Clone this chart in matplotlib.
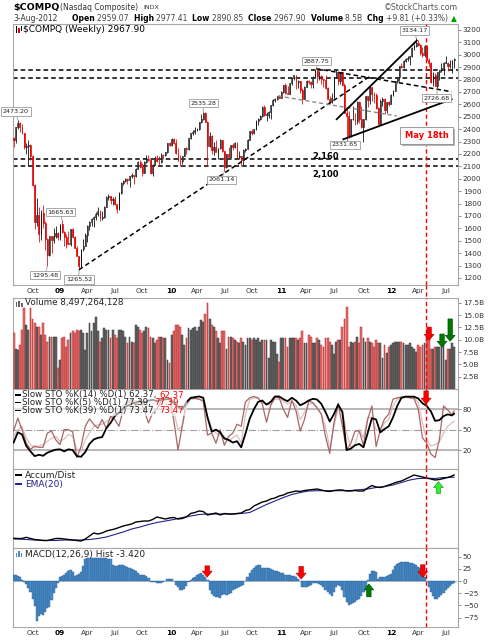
import numpy as np
import pandas as pd
import matplotlib
matplotlib.use("Agg")
import matplotlib.pyplot as plt
import matplotlib.dates as mdates
from matplotlib.patches import Rectangle
from matplotlib.lines import Line2D

plt.rcParams['font.family'] = ['DejaVu Sans']

W, H = 496, 640

# weekly bars of $COMPQ, week ending Fri 1-Aug-2008 .. 3-Aug-2012
week_end = pd.date_range('2008-08-01', periods=210, freq='W-FRI')

opens = [2325, 2311, 2414, 2453, 2415, 2368, 2256, 2261, 2274, 2183,
         1947, 1650, 1711, 1552, 1721, 1647, 1517, 1384, 1536, 1509,
         1541, 1564, 1530, 1632, 1572, 1529, 1477, 1476, 1592, 1534,
         1441, 1378, 1294, 1432, 1457, 1545, 1622, 1653, 1673, 1694,
         1719, 1739, 1680, 1692, 1774, 1849, 1859, 1827, 1838, 1797,
         1756, 1887, 1966, 1979, 2000, 1986, 2021, 2029, 2019, 2081,
         2133, 2091, 2048, 2139, 2157, 2154, 2045, 2112, 2168, 2146,
         2138, 2194, 2190, 2212, 2286, 2269, 2317, 2288, 2205, 2147,
         2141, 2184, 2244, 2238, 2326, 2368, 2374, 2395, 2403, 2454,
         2481, 2530, 2461, 2266, 2347, 2229, 2257, 2219, 2244, 2310,
         2223, 2092, 2196, 2179, 2269, 2255, 2288, 2173, 2180, 2154,
         2234, 2242, 2316, 2381, 2371, 2402, 2469, 2479, 2507, 2579,
         2518, 2518, 2535, 2591, 2638, 2643, 2666, 2653, 2703, 2755,
         2690, 2687, 2769, 2809, 2834, 2781, 2785, 2716, 2644, 2743,
         2790, 2780, 2765, 2820, 2874, 2828, 2828, 2803, 2797, 2733,
         2644, 2616, 2653, 2816, 2860, 2790, 2859, 2756, 2532, 2508,
         2342, 2480, 2480, 2468, 2622, 2483, 2415, 2479, 2668, 2637,
         2737, 2686, 2679, 2573, 2442, 2627, 2647, 2555, 2619, 2605,
         2674, 2711, 2787, 2817, 2906, 2904, 2952, 2964, 2976, 2988,
         3055, 3068, 3092, 3081, 3011, 3000, 3069, 2956, 2934, 2779,
         2838, 2747, 2858, 2873, 2892, 2935, 2937, 2908, 2925, 2959]

highs = [2340, 2420, 2473, 2460, 2440, 2370, 2290, 2310, 2280, 2190,
         1960, 1845, 1770, 1745, 1785, 1660, 1525, 1540, 1540, 1600,
         1620, 1570, 1635, 1666, 1580, 1555, 1580, 1595, 1600, 1540,
         1460, 1380, 1435, 1510, 1560, 1625, 1660, 1680, 1700, 1730,
         1775, 1745, 1740, 1780, 1860, 1880, 1862, 1850, 1860, 1800,
         1890, 1970, 1990, 2010, 2010, 2025, 2050, 2030, 2085, 2140,
         2150, 2130, 2140, 2190, 2190, 2160, 2115, 2180, 2190, 2180,
         2210, 2200, 2215, 2290, 2296, 2325, 2326, 2320, 2250, 2195,
         2185, 2245, 2260, 2330, 2370, 2390, 2420, 2410, 2455, 2520,
         2535, 2535, 2465, 2380, 2355, 2300, 2310, 2250, 2320, 2315,
         2225, 2200, 2260, 2275, 2285, 2295, 2300, 2220, 2185, 2240,
         2250, 2320, 2385, 2400, 2405, 2475, 2490, 2515, 2590, 2592,
         2535, 2545, 2595, 2640, 2650, 2670, 2675, 2710, 2760, 2770,
         2745, 2775, 2815, 2840, 2835, 2800, 2790, 2730, 2750, 2800,
         2800, 2785, 2825, 2880, 2888, 2865, 2840, 2805, 2835, 2740,
         2670, 2690, 2820, 2875, 2865, 2860, 2860, 2775, 2560, 2545,
         2485, 2585, 2530, 2625, 2625, 2590, 2480, 2670, 2670, 2750,
         2740, 2700, 2690, 2580, 2640, 2660, 2650, 2620, 2630, 2680,
         2715, 2790, 2820, 2910, 2930, 2955, 2970, 2990, 2990, 3060,
         3085, 3134, 3120, 3085, 3060, 3075, 3080, 2975, 2940, 2860,
         2850, 2860, 2880, 2930, 2940, 2990, 2945, 2960, 2960, 2977]

lows = [2260, 2290, 2400, 2380, 2360, 2240, 2200, 2100, 2150, 1940,
        1596, 1615, 1493, 1505, 1600, 1428, 1295, 1380, 1398, 1480,
        1520, 1505, 1505, 1560, 1456, 1440, 1470, 1460, 1520, 1438,
        1375, 1266, 1290, 1420, 1455, 1490, 1585, 1620, 1610, 1665,
        1700, 1660, 1670, 1685, 1770, 1830, 1800, 1790, 1790, 1727,
        1750, 1880, 1950, 1975, 1960, 1930, 2010, 1960, 2015, 2075,
        2085, 2025, 2045, 2130, 2140, 2040, 2024, 2110, 2135, 2100,
        2130, 2160, 2180, 2210, 2265, 2265, 2280, 2200, 2145, 2100,
        2120, 2180, 2200, 2235, 2320, 2355, 2360, 2385, 2395, 2450,
        2470, 2460, 2100, 2260, 2200, 2190, 2215, 2160, 2240, 2215,
        2061, 2085, 2175, 2170, 2230, 2245, 2170, 2160, 2100, 2110,
        2215, 2240, 2310, 2355, 2360, 2395, 2430, 2470, 2500, 2510,
        2465, 2490, 2480, 2585, 2620, 2635, 2650, 2650, 2690, 2680,
        2680, 2685, 2760, 2800, 2720, 2735, 2690, 2603, 2640, 2740,
        2765, 2735, 2730, 2815, 2775, 2800, 2765, 2740, 2725, 2640,
        2600, 2610, 2650, 2810, 2760, 2765, 2750, 2530, 2300, 2330,
        2335, 2475, 2435, 2440, 2450, 2410, 2300, 2475, 2580, 2600,
        2630, 2610, 2560, 2440, 2440, 2590, 2520, 2530, 2590, 2605,
        2665, 2705, 2775, 2790, 2890, 2890, 2940, 2950, 2915, 2985,
        3040, 3060, 3070, 2995, 2985, 2980, 2955, 2900, 2775, 2750,
        2745, 2727, 2800, 2860, 2840, 2930, 2870, 2890, 2855, 2891]

closes = [2311, 2414, 2453, 2415, 2368, 2256, 2261, 2274, 2183, 1947,
          1650, 1711, 1552, 1721, 1647, 1517, 1384, 1536, 1509, 1541,
          1564, 1530, 1632, 1572, 1529, 1477, 1476, 1592, 1534, 1441,
          1378, 1294, 1432, 1457, 1545, 1622, 1653, 1673, 1694, 1719,
          1739, 1680, 1692, 1774, 1849, 1859, 1827, 1838, 1797, 1756,
          1887, 1966, 1979, 2000, 1986, 2021, 2029, 2019, 2081, 2133,
          2091, 2048, 2139, 2157, 2154, 2045, 2112, 2168, 2146, 2138,
          2194, 2190, 2212, 2286, 2269, 2317, 2288, 2205, 2147, 2141,
          2184, 2244, 2238, 2326, 2368, 2374, 2395, 2403, 2454, 2481,
          2530, 2461, 2266, 2347, 2229, 2257, 2219, 2244, 2310, 2223,
          2092, 2196, 2179, 2269, 2255, 2288, 2173, 2180, 2154, 2234,
          2242, 2316, 2381, 2371, 2402, 2469, 2479, 2507, 2579, 2518,
          2518, 2535, 2591, 2638, 2643, 2666, 2653, 2703, 2755, 2690,
          2687, 2769, 2809, 2834, 2781, 2785, 2716, 2644, 2743, 2790,
          2780, 2765, 2820, 2874, 2828, 2828, 2803, 2797, 2733, 2644,
          2616, 2653, 2816, 2860, 2790, 2859, 2756, 2532, 2508, 2342,
          2480, 2480, 2468, 2622, 2483, 2415, 2479, 2668, 2637, 2737,
          2686, 2679, 2573, 2442, 2627, 2647, 2555, 2619, 2605, 2674,
          2711, 2787, 2817, 2906, 2904, 2952, 2964, 2976, 2988, 3055,
          3068, 3092, 3081, 3011, 3000, 3069, 2956, 2934, 2779, 2838,
          2747, 2858, 2873, 2892, 2935, 2937, 2908, 2925, 2958, 2968]

# weekly volume, billions of shares
volume_b = [11.3, 8.2, 7.9, 8.9, 12.0, 16.4, 13.0, 12.0, 16.4, 14.3,
            13.3, 12.6, 12.6, 10.9, 13.3, 10.9, 9.6, 10.6, 10.6, 10.6,
            10.6, 4.2, 5.9, 10.3, 10.6, 8.6, 9.9, 11.3, 11.7, 11.3,
            12.0, 11.7, 12.0, 11.3, 7.9, 11.3, 13.3, 11.7, 13.3, 14.6,
            11.7, 9.6, 10.3, 12.3, 12.0, 12.0, 10.3, 12.0, 11.0, 10.3,
            12.0, 12.0, 11.7, 10.6, 9.3, 10.6, 9.6, 9.3, 13.0, 12.6,
            12.0, 11.3, 11.7, 12.6, 12.3, 10.6, 10.3, 9.3, 10.0, 10.6,
            10.6, 10.3, 10.3, 5.9, 5.2, 10.9, 11.7, 13.0, 13.0, 12.6,
            10.9, 8.9, 10.3, 12.3, 12.0, 12.3, 12.6, 11.7, 12.6, 14.0,
            13.6, 15.3, 17.4, 14.3, 13.0, 12.6, 11.7, 10.3, 9.3, 11.7,
            11.7, 8.2, 10.6, 10.6, 10.3, 9.9, 9.6, 9.3, 10.3, 9.6,
            8.9, 10.3, 10.3, 10.0, 10.3, 9.9, 10.3, 9.6, 9.9, 9.9,
            9.9, 6.2, 9.9, 9.6, 9.6, 7.2, 5.5, 10.3, 10.3, 10.3,
            8.6, 10.3, 10.3, 10.3, 10.3, 9.9, 10.3, 11.7, 9.3, 9.3,
            10.9, 10.6, 9.3, 9.3, 10.3, 9.9, 8.9, 8.6, 10.3, 10.3,
            9.6, 8.9, 7.2, 9.6, 9.9, 9.9, 12.6, 14.3, 16.6, 8.6,
            9.6, 9.3, 9.6, 10.6, 9.3, 12.6, 10.3, 9.6, 10.3, 9.6,
            9.3, 8.6, 9.9, 9.3, 9.3, 6.2, 8.9, 7.3, 8.6, 8.9,
            9.3, 9.6, 9.6, 9.6, 9.6, 9.3, 8.9, 8.9, 9.3, 8.6,
            8.2, 7.6, 8.9, 8.6, 8.9, 9.3, 10.3, 10.6, 8.2, 8.2,
            8.6, 8.6, 8.6, 9.3, 9.0, 5.8, 8.2, 8.2, 9.3, 8.6]

macd_hist = [12, 11.5, 10.5, 9, 2, -2, -7, -14, -22, -37,
             -52, -83, -71, -67, -69, -63, -56, -53, -40, -25,
             -15, -4, 9, 11, 13, 15.5, 20, 23, 19, 10,
             12, 14, 18, 31, 46, 47, 47, 47, 47, 47,
             47, 47, 47, 47, 47, 46, 45, 32, 30, 31,
             32, 33, 33, 30, 28, 26.5, 25, 22.5, 20, 17,
             13, 12.3, 12, 10.5, 7, -1.5, -2.7, -3, -3.4, -3.4,
             -3.4, -2, 1, 3.5, 5, 4, 0.5, -8, -13, -18.5,
             -17.5, -16, -11, -3, 2.5, 6.5, 9, 12.3, 14, 15.7,
             12.5, 8, 2, -18, -27, -31, -32, -33, -35.6, -29,
             -26, -28.5, -27, -24, -19, -17, -15, -12.5, -10, -8,
             0, 9, 15.7, 22, 27, 30.5, 32, 32, 27, 26,
             26, 26, 25, 22.6, 21, 20, 19, 17, 15.7, 13,
             12.3, 12.3, 11, 10, 9, 5, 0, -12, -13, -11.5,
             -10.5, -8, -5, -4, -4, -6, -9, -13, -18, -22,
             -26, -31, -22, -12, -9, -11, -18, -32, -43, -49,
             -48, -46, -43.5, -40, -36, -30, -22, -12, 2, 15,
             20, 21, 19, 4, 8, 9, 9, 10, 12, 15,
             22, 30, 34, 37.6, 39, 39.7, 39.7, 39, 38, 36.5,
             35, 33, 29, 26, 19.5, 9, 0, -12, -22, -30,
             -36, -37, -32, -28, -24, -19, -15, -10, -6, -3.42]

# slow stochastics, read every second week
sto_weeks = list(range(0, 210, 2)) + [209]
sto39 = [31, 46, 43, 26, 18, 11, 13, 11.5, 16, 18.5,
         20.5, 21, 18, 21, 20, 11, 10, 17, 29, 35.5,
         38, 39, 52, 60, 70, 75, 82, 85, 88, 90,
         92, 90, 93, 94, 92, 94, 95, 95, 90, 84,
         80, 90, 97, 98, 99, 97, 68, 47, 50, 46,
         37, 35, 31, 33, 24, 44, 66, 80, 91, 93,
         87, 91, 99, 99, 95, 92, 97, 93, 86, 89,
         93, 95.5, 94.5, 88, 76, 62, 73, 87, 76, 20,
         22, 27, 29, 24, 45, 67, 65, 46, 51, 55,
         68, 85, 97, 98.7, 98.7, 98.7, 96, 89, 85, 77,
         63, 64, 70, 72.6, 71, 73.47]
sto5 = [48, 67, 50, 30, 21, 26, 24, 24, 45, 48,
        35, 28, 50, 50, 47, 9, 25, 55, 66, 58,
        52, 65, 52, 70, 65, 55, 80, 90, 95, 85,
        95, 78, 60, 75, 80, 92, 95, 96, 64, 20,
        55, 92, 96, 96, 95, 92, 42, 45, 30, 50,
        27, 40, 45, 58, 55, 91, 97, 99, 97, 88,
        61, 86, 98, 97, 80, 68, 93, 78, 48, 65,
        92, 90, 82, 73, 40, 15, 60, 89, 55, 20,
        30, 48, 48, 27, 65, 85, 25, 50, 66, 73,
        95, 97, 98, 99, 97, 96, 80, 38, 30, 14,
        9, 35, 85, 79, 72, 77.39]
sto14 = [40, 50, 55, 38, 28, 23, 26, 28, 33, 37,
         40, 33, 36, 43, 40, 21, 18, 35, 45, 55,
         57, 58, 62, 66, 75, 80, 86, 88, 92, 93,
         90, 88, 85, 88, 90, 92, 94, 95, 78, 50,
         55, 85, 95, 96, 95, 94, 70, 52, 45, 42,
         40, 33, 38, 42, 30, 72, 94, 97, 96, 90,
         87, 87, 95, 95, 92, 88, 92, 86, 65, 75,
         87, 89, 82, 73, 55, 22, 55, 82, 78, 45,
         24, 28, 50, 38, 68, 68, 50, 47, 60, 65,
         85, 95, 97, 97, 97, 97, 90, 60, 35, 26,
         28, 32, 45, 55, 60, 62.37]

# accumulation / distribution (panel units) and its EMA(20)
ad_weeks = list(range(0, 210, 2)) + [209]
accum_dist = [9.7, 9.5, 9.5, 10.7, 9.5, 8.5, 8, 7.5, 7.5, 8.5,
              9.5, 9.5, 9, 8.5, 8, 7.5, 7, 9, 12, 15,
              14, 15, 17, 18, 19, 20.5, 22, 23, 24, 26,
              26.5, 27, 27, 28.5, 31, 30, 29, 30, 30.5, 29,
              29.5, 31, 34.5, 35.5, 37, 36.5, 33, 34, 35, 33,
              34.5, 34, 34, 34.5, 35, 37.5, 38.5, 42, 44, 46,
              47, 49, 50, 52, 53, 55, 56, 57, 56.5, 57.5,
              58, 58.5, 59, 58, 57, 56.5, 57.5, 58, 58, 57,
              57, 57.5, 57, 57, 60, 62.5, 61, 60.5, 61.5, 63,
              64.5, 66, 67, 69, 71, 73, 72, 71, 70, 69,
              68, 68.5, 69.5, 70.5, 72, 73]
ema_weeks = list(range(0, 210, 4)) + [209]
ema20 = [9, 8.8, 8.2, 7.8, 7.5, 7.5, 8, 8, 8, 8.5,
         9.5, 11, 13.5, 16, 19, 21, 23.5, 25.5, 27, 28.5,
         30.5, 32, 33.5, 34, 34, 34, 34, 34.5, 35.5, 39.5,
         43.5, 47, 50.5, 53.5, 55.5, 57, 57.3, 57.3, 57.3, 57.3,
         57.5, 58.3, 59, 60.5, 61.5, 63, 65.5, 68, 69.5, 69.7,
         69.5, 70.5, 70.7, 70.8]

quarter_ticks = ['2008-10-03', '2009-01-02', '2009-04-03', '2009-07-03',
                 '2009-10-02', '2010-01-08', '2010-04-02', '2010-07-02',
                 '2010-10-01', '2011-01-07', '2011-04-01', '2011-07-01',
                 '2011-10-07', '2012-01-06', '2012-04-06', '2012-07-06']
quarter_labels = ['Oct', '09', 'Apr', 'Jul', 'Oct', '10', 'Apr', 'Jul',
                  'Oct', '11', 'Apr', 'Jul', 'Oct', '12', 'Apr', 'Jul']

# chart annotations
levels = [2877, 2810, 2160, 2100]
black_dashed = [(('2009-03-06', 1266), ('2011-10-31', 2830)),
                (('2011-05-02', 2888), ('2012-07-26', 2702))]
gray_dashed = [(('2010-12-27', 2668), ('2012-01-26', 2506))]
solid_lines = [(('2011-07-10', 2480), ('2012-04-01', 3114)),
               (('2011-08-01', 2318), ('2012-07-26', 2641))]
price_tags = [('2008-08-15', 2473.20, -1.3, 6.2),
              ('2010-04-23', 2535.28, 0, 6.5),
              ('2009-01-09', 1665.63, -1.2, 5.9),
              ('2008-11-21', 1295.48, -1.7, -6.7),
              ('2009-03-06', 1265.52, 0, -7),
              ('2010-07-02', 2061.14, -2, -6.3),
              ('2011-05-06', 2887.75, -0.7, 5.5),
              ('2012-03-30', 3134.17, -1.1, 5.5),
              ('2011-08-19', 2331.65, -2.6, -5.2),
              ('2012-06-08', 2726.68, -0.4, -7)]
may_line = '2012-05-01'

x = mdates.date2num(week_end.to_pydatetime())
o = np.array(opens, float)
hi = np.array(highs, float)
lo = np.array(lows, float)
c = np.array(closes, float)
prev_c = np.concatenate([[o[0]], c[:-1]])
down = c < prev_c
hollow = c >= o


def d2n(s):
    return mdates.date2num(pd.Timestamp(s).to_pydatetime())


def panel(top, bottom):
    return fig.add_axes([13 / W, 1 - bottom / H, 445 / W, (bottom - top) / H])


fig = plt.figure(figsize=(W / 100, H / 100), dpi=100)
fig.patch.set_facecolor('white')

ax = panel(24, 285)
axv = panel(298, 389)
axs = panel(389, 469)
axa = panel(469, 548)
axm = panel(548, 627)
# transparent overlay for all free text, drawn above every panel
top = fig.add_axes([0, 0, 1, 1], zorder=10)
top.axis('off')

xmin, xmax = d2n('2008-07-30'), d2n('2012-08-16')
tick_x = [d2n(t) for t in quarter_ticks]
for a in (ax, axv, axs, axa, axm):
    a.set_xlim(xmin, xmax)
    for sp in a.spines.values():
        sp.set_color('#a8a8a8')
        sp.set_linewidth(0.8)
    a.yaxis.tick_right()
    a.tick_params(axis='y', length=2.5, width=0.6, color='#777777',
                  labelsize=5.2, labelcolor='#333333', pad=1)
    a.tick_params(axis='x', length=0, labelsize=5.3, labelcolor='#333333', pad=2.5)
    a.set_xticks(tick_x)
    if a in (ax, axm):
        a.set_xticklabels(quarter_labels)
        for t, lab in zip(a.get_xticklabels(), quarter_labels):
            if lab.isdigit():
                t.set_fontweight('bold')
                t.set_color('black')
    else:
        a.set_xticklabels([])
    a.axvline(d2n(may_line), color='#ff0000', lw=1.0, ls=(0, (3, 2)), zorder=5)

# ---- price panel ----
edge = np.where(down, '#e00000', '#000000')
face = np.where(hollow, '#ffffff', edge)
ax.vlines(x, lo, hi, colors=edge, lw=0.55, zorder=3)
ax.bar(x, np.maximum(np.abs(c - o), 4), bottom=np.minimum(o, c), width=3.0,
       color=face, edgecolor=edge, linewidth=0.45, zorder=4)
ax.set_ylim(1143, 3248)
ax.set_yticks(range(1200, 3201, 100))

for lv in levels:
    ax.axhline(lv, color='black', lw=1.1, ls=(0, (3, 2)), zorder=2)
for (d0, p0), (d1, p1) in black_dashed:
    ax.plot([d2n(d0), d2n(d1)], [p0, p1], color='black', lw=1.1, ls=(0, (3, 2)), zorder=5)
for (d0, p0), (d1, p1) in gray_dashed:
    ax.plot([d2n(d0), d2n(d1)], [p0, p1], color='#8c8c8c', lw=1.0, ls=(0, (3, 2)), zorder=5)
for (d0, p0), (d1, p1) in solid_lines:
    ax.plot([d2n(d0), d2n(d1)], [p0, p1], color='black', lw=1.3, zorder=5)

for d, p, dx, dy in price_tags:
    ax.annotate('%.2f' % p, xy=(d2n(d), p), xytext=(dx, dy), textcoords='offset points',
                ha='center', va='center', fontsize=4.6, color='#222222',
                bbox=dict(boxstyle='square,pad=0.25', fc='white', ec='#9a9a9a', lw=0.6),
                arrowprops=dict(arrowstyle='-', color='#9a9a9a', lw=0.6, shrinkA=0, shrinkB=0),
                annotation_clip=False, zorder=6)

ax.text((326 - 13) / 445, (285 - 156) / 261, '2,160', transform=ax.transAxes,
        ha='center', va='center', fontsize=6, fontweight='bold', zorder=6)
ax.text((326 - 13) / 445, (285 - 175) / 261, '2,100', transform=ax.transAxes,
        ha='center', va='center', fontsize=6, fontweight='bold', zorder=6)

bx, by, bw, bh = (400 - 13) / 445, (285 - 144) / 261, 53 / 445, 17 / 261
ax.add_patch(Rectangle((bx + 2 / 445, by - 2 / 261), bw, bh, transform=ax.transAxes,
                       fc='#b4b4b4', ec='none', zorder=7, clip_on=False))
ax.add_patch(Rectangle((bx, by), bw, bh, transform=ax.transAxes,
                       fc='white', ec='#8a8a8a', lw=0.6, zorder=8, clip_on=False))
ax.text(bx + bw / 2, by + bh / 2, 'May 18th', transform=ax.transAxes, ha='center',
        va='center', fontsize=6, fontweight='bold', color='#ff0000', zorder=9)

# ---- volume ----
vface = np.where(down, '#d97878', '#686868')
vedge = np.where(down, '#c81818', '#363636')
axv.bar(x, volume_b, width=6.0, color=vface, edgecolor=vedge, linewidth=0.35, zorder=3)
axv.set_ylim(0, 18.46)
vt = [2.5, 5.0, 7.5, 10.0, 12.5, 15.0, 17.5]
axv.set_yticks(vt)
axv.set_yticklabels(['%.1fB' % v for v in vt])

# ---- stochastics ----
xs = x[sto_weeks]
axs.axhline(80, color='#b8b8b8', lw=1.4, zorder=1)
axs.axhline(20, color='#b8b8b8', lw=1.4, zorder=1)
axs.axhline(50, color='#a0a0a0', lw=0.8, ls='-.', zorder=1)
axs.plot(xs, sto14, color='#e0bcbc', lw=0.9, zorder=2)
axs.plot(xs, sto5, color='#a56767', lw=0.9, zorder=3)
axs.plot(xs, sto39, color='black', lw=1.3, zorder=4)
axs.set_ylim(-8, 110)
axs.set_yticks([20, 50, 80])
axs.add_patch(Rectangle((0.002, 1 - 27 / 80), 0.39, 25 / 80, transform=axs.transAxes,
                        fc='white', ec='none', alpha=0.6, zorder=5))

# ---- accumulation / distribution ----
axa.plot(x[ema_weeks], ema20, color='#22228a', lw=0.8, zorder=2)
axa.plot(x[ad_weeks], accum_dist, color='black', lw=1.0, zorder=3)
axa.set_ylim(0, 79)
axa.set_yticks([])

# ---- MACD histogram ----
axm.axhline(0, color='#c0c0c0', lw=0.6, zorder=1)
axm.bar(x, macd_hist, width=7, color='#4a8cc6', edgecolor='#2a5f96', linewidth=0.3, zorder=3)
axm.set_ylim(-94.5, 67.8)
axm.set_yticks([50, 25, 0, -25, -50, -75])


# ---- block arrows ----
def block_arrow(a, date, tip, length, color, edgec, up=False):
    a.annotate('', xy=(d2n(date), tip), xytext=(0, -length if up else length),
               textcoords='offset points',
               arrowprops=dict(arrowstyle='simple,head_width=1.0,head_length=0.6,tail_width=0.45',
                               mutation_scale=7, fc=color, ec=edgec, lw=0.5,
                               shrinkA=0, shrinkB=0),
               annotation_clip=False, zorder=9)


block_arrow(axv, '2012-05-12', 9.9, 9.4, '#ff0000', '#c00000')
block_arrow(axv, '2012-06-24', 8.5, 9.4, '#007a00', '#005000')
block_arrow(axv, '2012-07-21', 9.7, 16, '#007a00', '#005000')
block_arrow(axs, '2012-05-02', 87.8, 9.4, '#ff0000', '#c00000')
block_arrow(axm, '2010-05-06', 8.2, 8, '#ff0000', '#c00000')
block_arrow(axm, '2011-03-14', 4.1, 9, '#ff0000', '#c00000')
block_arrow(axm, '2012-04-21', 7.6, 9, '#ff0000', '#c00000')
block_arrow(axm, '2011-10-25', -6.2, 9.2, '#007a00', '#005000', up=True)
block_arrow(axa, '2012-06-12', 66.3, 8.4, '#33ee33', '#20a020', up=True)

# red line through the date row between price and volume
xf = fig.transFigure.inverted().transform(ax.transData.transform((d2n(may_line), 2000)))[0]
fig.add_artist(Line2D([xf, xf], [1 - 285 / H, 1 - 298 / H], color='#ff0000', lw=1.0,
                      ls=(0, (3, 2))))


# ---- text helpers (pixel positions, top-left origin) ----
def put(txt, xp, yp, size, weight='normal', color='black', ha='left'):
    return top.annotate(txt, xy=(xp, H - yp), xycoords='figure pixels', ha=ha, va='center',
                        fontsize=size, fontweight=weight, color=color, annotation_clip=False)


def chain(parts, xp, yp, size, gap=0):
    prev = None
    for txt, weight, color in parts:
        if prev is None:
            prev = put(txt, xp, yp, size, weight, color)
        else:
            prev = top.annotate(txt, xy=(1, 0.5), xycoords=prev, xytext=(gap, 0),
                                textcoords='offset points', ha='left', va='center',
                                fontsize=size, fontweight=weight, color=color,
                                annotation_clip=False)
    return prev


def fig_rect(xp, yp, wp, hp, color):
    fig.add_artist(Rectangle((xp / W, 1 - (yp + hp) / H), wp / W, hp / H,
                             transform=fig.transFigure, fc=color, ec='none', zorder=11))


# header
put('$COMPQ', 13, 7.5, 6.8, 'bold')
put('(Nasdaq Composite)', 60, 7.8, 5.5, color='#333333')
put('INDX', 143, 7.8, 4.5, color='#333333')
put('\u00a9StockCharts.com', 458, 7.8, 5.6, color='#555555', ha='right')
put('3-Aug-2012', 13, 18.5, 5.5, color='#333333')
chain([('Open ', 'bold', 'black'), ('2959.07  ', 'normal', '#444444'),
       ('High ', 'bold', 'black'), ('2977.41  ', 'normal', '#444444'),
       ('Low ', 'bold', 'black'), ('2890.85  ', 'normal', '#444444'),
       ('Close ', 'bold', 'black'), ('2967.90  ', 'normal', '#444444'),
       ('Volume ', 'bold', 'black'), ('8.5B  ', 'normal', '#444444'),
       ('Chg ', 'bold', 'black'), ('+9.81 (+0.33%) ', 'normal', '#444444'),
       ('\u25b2', 'normal', '#00a000')], 72, 18.5, 5.5)

# panel legends
fig_rect(15.5, 26.5, 1.4, 6, 'black')
fig_rect(18.2, 27.5, 1.4, 5, '#e00000')
fig_rect(20.9, 26, 1.4, 5, 'black')
put('$COMPQ (Weekly) 2967.90', 23, 29.5, 6.5)

fig_rect(15.5, 302, 1.6, 5, '#666666')
fig_rect(18.2, 300.5, 1.6, 6.5, '#666666')
fig_rect(20.9, 303, 1.6, 4, '#666666')
put('Volume 8,497,264,128', 25, 303, 6.3, color='#222222')

sto_rows = [('Slow STO %K(14) %D(1) 62.37,', '62.37'),
            ('Slow STO %K(5) %D(1) 77.39,', '77.39'),
            ('Slow STO %K(39) %D(1) 73.47,', '73.47')]
for k, (lab, val) in enumerate(sto_rows):
    yy = 395 + 7.7 * k
    fig_rect(15, yy - 0.6, 5.5, 1.3, 'black')
    chain([(lab, 'normal', '#222222'), (val, 'normal', '#ff0000')], 22, yy, 6.2, gap=2.2)

fig_rect(15, 474.4, 6.5, 1.3, 'black')
put('Accum/Dist', 25, 475, 6.5, color='#222222')
fig_rect(15, 483.4, 6.5, 1.3, '#22228a')
put('EMA(20)', 25, 484, 6.5, color='#22228a')

fig_rect(15.5, 553, 1.5, 4, '#4a8cc6')
fig_rect(18.2, 551, 1.5, 6, '#4a8cc6')
fig_rect(20.9, 552.5, 1.5, 4.5, '#4a8cc6')
put('MACD(12,26,9) Hist -3.420', 25, 554, 6.5, color='#222222')

fig.savefig('out.png', dpi=100, facecolor='white')
